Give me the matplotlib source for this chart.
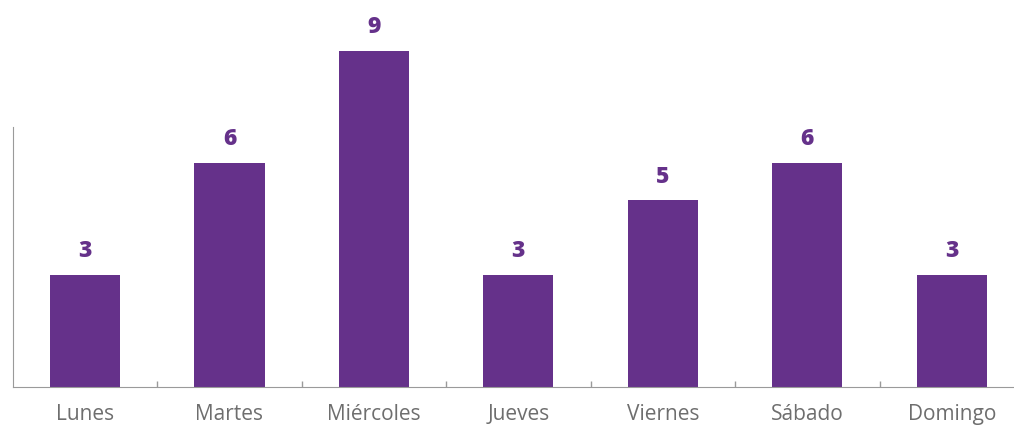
import matplotlib
matplotlib.use("Agg")
from matplotlib import pyplot as plt

days = ["Lunes", "Martes", "Miércoles", "Jueves", "Viernes", "Sábado", "Domingo"]
counts = [3, 6, 9, 3, 5, 6, 3]

purple = "#65318a"
grey = "#9a9a9a"

fig = plt.figure(figsize=(10.14, 4.25), dpi=100)
ax = fig.add_axes([12.75 / 1014, 38 / 425, (1014 - 12.75) / 1014, 373 / 425])

x = list(range(len(days)))
ax.bar(x, counts, width=0.485, color=purple, zorder=2)
for xi, v in zip(x, counts):
    ax.annotate(str(v), (xi, v), xytext=(0, 8.5), textcoords="offset points",
                ha="center", va="bottom", fontsize=16.5, fontweight="heavy",
                color=purple, family="Open Sans")

ax.set_xlim(-0.5, 6.43)
ax.set_ylim(0, 10)

for s in ["top", "right"]:
    ax.spines[s].set_visible(False)
ax.spines["left"].set_bounds(0, 6.97)
ax.spines["left"].set_color(grey)
ax.spines["bottom"].set_color(grey)

ax.set_yticks([])
ax.set_xticks([i + 0.5 for i in range(len(days) - 1)])
ax.set_xticklabels([])
ax.tick_params(axis="x", direction="in", length=4, color=grey, width=1)
ax.set_xticks(x, minor=True)
ax.set_xticklabels(days, minor=True, fontsize=15, color="#6e6e6e", family="Open Sans")
ax.tick_params(axis="x", which="minor", length=0, pad=12)

fig.savefig("out.png", dpi=100)
